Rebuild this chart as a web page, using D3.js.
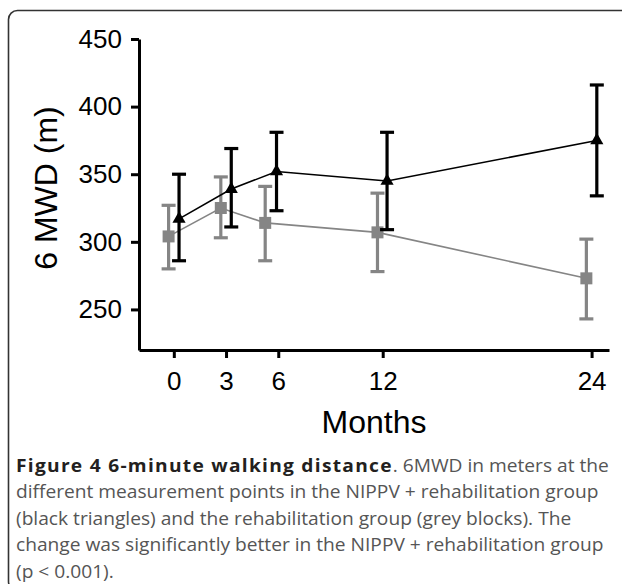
<!DOCTYPE html>
<html>
<head>
<meta charset="utf-8">
<script src="https://cdn.jsdelivr.net/npm/d3@7"></script>
<style>
  body { margin: 0; background: #fff; }
  svg { display: block; }
</style>
</head>
<body>
<div id="chart"></div>
<script>
// Data (6MWD in meters)
var monthTicks = [0, 3, 6, 12, 24]
var yTicks = [250, 300, 350, 400, 450]

// NIPPV + rehabilitation group (black triangles), plotted slightly right of the tick
var nippvX = [0.3, 3.3, 5.9, 12.25, 24.3]
var nippvMean = [317, 339, 352, 345, 375]
var nippvHigh = [350, 369, 381, 381, 416]
var nippvLow = [286, 311, 323, 309, 334]

// rehabilitation group (grey blocks), plotted slightly left of the tick
var rehabX = [-0.3, 2.7, 5.25, 11.7, 23.7]
var rehabMean = [304, 325, 314, 307, 273]
var rehabHigh = [327, 348, 341, 336, 302]
var rehabLow = [280, 303, 286, 278, 243]

var captionLines = [
  [{t: 'Figure 4 6-minute walking distance', b: true}, {t: '. 6MWD in meters at the', b: false}],
  [{t: 'different measurement points in the NIPPV + rehabilitation group', b: false}],
  [{t: '(black triangles) and the rehabilitation group (grey blocks). The', b: false}],
  [{t: 'change was significantly better in the NIPPV + rehabilitation group', b: false}],
  [{t: '(p < 0.001).', b: false}]
]

var width = 622
var height = 584

var svg = d3.select('#chart').append('svg')
    .attr('width', width)
    .attr('height', height)

// rounded frame, open to the right
svg.append('rect')
    .attr('x', 8.5)
    .attr('y', 10.5)
    .attr('width', 660)
    .attr('height', 580)
    .attr('rx', 9)
    .style('fill', 'none')
    .style('stroke', '#333')
    .style('stroke-width', 1.6)

var x = d3.scaleLinear()
    .domain([-2, 25])
    .range([139, 609])

var y = d3.scaleLinear()
    .domain([220, 450])
    .range([350, 39])

// Axes
var xAxis = svg.append('g')
    .attr('transform', 'translate(0,' + 350 + ')')
    .call(d3.axisBottom(x).tickValues(monthTicks).tickSize(8).tickSizeOuter(0).tickPadding(14))
var yAxis = svg.append('g')
    .attr('transform', 'translate(' + 139 + ',0)')
    .call(d3.axisLeft(y).tickValues(yTicks).tickSize(8).tickSizeOuter(0).tickPadding(9))

;[xAxis, yAxis].forEach(function(ax){
  ax.select('.domain').style('stroke', '#000').style('stroke-width', 3)
  ax.selectAll('.tick line').style('stroke', '#000').style('stroke-width', 3)
  ax.selectAll('.tick text')
      .attr('font-family', 'Liberation Sans, Arial, sans-serif')
      .attr('font-size', '26px')
      .attr('fill', '#000')
})

// Axis titles
svg.append('text')
    .attr('x', 374)
    .attr('y', 433)
    .text('Months')
    .style('text-anchor', 'middle')
    .attr('font-family', 'Liberation Sans, Arial, sans-serif')
    .attr('font-size', '32px')
    .attr('fill', '#000')

svg.append('text')
    .attr('transform', 'translate(' + 57 + ',' + 188 + ') rotate(-90)')
    .text('6 MWD (m)')
    .style('text-anchor', 'middle')
    .attr('font-family', 'Liberation Sans, Arial, sans-serif')
    .attr('font-size', '32px')
    .attr('fill', '#000')

// Series
function drawSeries(xs, mean, high, low, color, marker) {
  var pts = xs.map(function(d, i){
    return {x: d, mean: mean[i], high: high[i], low: low[i]}
  })
  var g = svg.append('g')

  g.append('path')
      .datum(pts)
      .attr('d', d3.line().x(function(d){ return x(d.x) }).y(function(d){ return y(d.mean) }))
      .style('fill', 'none')
      .style('stroke', color)
      .style('stroke-width', 1.6)

  var bar = g.selectAll('.err')
      .data(pts)
    .enter().append('g')
  bar.append('line')
      .attr('x1', function(d){ return x(d.x) })
      .attr('x2', function(d){ return x(d.x) })
      .attr('y1', function(d){ return y(d.high) })
      .attr('y2', function(d){ return y(d.low) })
      .style('stroke', color)
      .style('stroke-width', 3.2)
  ;['high', 'low'].forEach(function(k){
    bar.append('line')
        .attr('x1', function(d){ return x(d.x) - 7 })
        .attr('x2', function(d){ return x(d.x) + 7 })
        .attr('y1', function(d){ return y(d[k]) })
        .attr('y2', function(d){ return y(d[k]) })
        .style('stroke', color)
        .style('stroke-width', 3.2)
  })

  var sym = marker === 'triangle' ? d3.symbolTriangle : d3.symbolSquare
  var size = marker === 'triangle' ? 75 : 144
  g.selectAll('.pt')
      .data(pts)
    .enter().append('path')
      .attr('transform', function(d){ return 'translate(' + x(d.x) + ',' + y(d.mean) + ')' })
      .attr('d', d3.symbol().type(sym).size(size))
      .style('fill', color)
}

drawSeries(rehabX, rehabMean, rehabHigh, rehabLow, '#858585', 'square')
drawSeries(nippvX, nippvMean, nippvHigh, nippvLow, '#000000', 'triangle')

// Caption (the figure's caption type is set a little wider than it is tall)
var cap = svg.append('g')
    .attr('transform', 'translate(16,0) scale(1.065,1)')
    .attr('font-family', 'Open Sans, sans-serif')
    .attr('font-size', '18px')
captionLines.forEach(function(line, i){
  var t = cap.append('text')
      .attr('x', 0)
      .attr('y', 472 + i * 26.4)
  line.forEach(function(part){
    t.append('tspan')
        .text(part.t)
        .attr('font-weight', part.b ? 'bold' : 'normal')
        .attr('letter-spacing', part.b ? '1.2px' : null)
        .attr('fill', part.b ? '#231f20' : '#555')
  })
})
</script>
</body>
</html>
